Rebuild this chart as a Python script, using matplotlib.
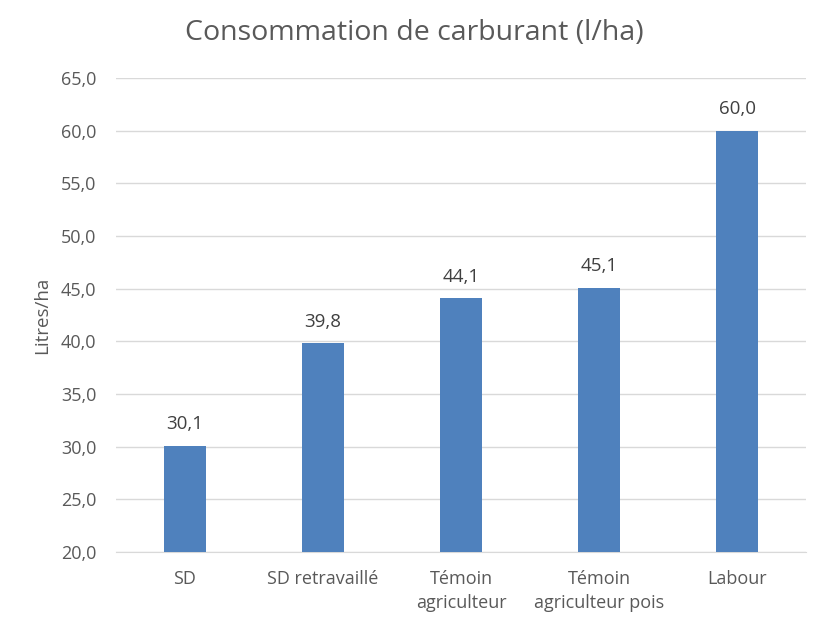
import matplotlib
matplotlib.use("Agg")
import matplotlib.pyplot as plt
from matplotlib.ticker import FuncFormatter

categories = ["SD", "SD retravaillé", "Témoin\nagriculteur", "Témoin\nagriculteur pois", "Labour"]
values = [30.1, 39.8, 44.1, 45.1, 60.0]
title = "Consommation de carburant (l/ha)"
ylabel = "Litres/ha"

plt.rcParams['font.family'] = ['Open Sans', 'DejaVu Sans']
txt = '#595959'

fig = plt.figure(figsize=(8.25, 6.25), dpi=100)
ax = fig.add_axes([0.1406, 0.1168, 0.8364, 0.7584])
x = range(len(categories))
ax.bar(x, values, width=0.31, color='#4F81BD', zorder=3, bottom=0)
ax.set_ylim(20, 65)
ax.set_xlim(-0.5, len(categories) - 0.5)
ax.set_yticks([20 + 5 * i for i in range(10)])
ax.yaxis.set_major_formatter(FuncFormatter(lambda v, p: f"{v:.1f}".replace('.', ',')))
ax.grid(axis='y', color='#D9D9D9', linewidth=1, zorder=0)
for s in ['top', 'right', 'left']:
    ax.spines[s].set_visible(False)
ax.spines['bottom'].set_color('#D9D9D9')
ax.tick_params(axis='both', length=0, colors=txt, labelsize=13)
ax.tick_params(axis='y', pad=14)
ax.tick_params(axis='x', pad=13)
ax.set_xticks(list(x))
ax.set_xticklabels(categories, color=txt, linespacing=1.45)
for xi, v in zip(x, values):
    ax.annotate(f"{v:.1f}".replace('.', ','), (xi, v), xytext=(0, 9), textcoords='offset points',
                ha='center', va='bottom', fontsize=13.5, color='#404040')
ax.set_ylabel(ylabel, fontsize=13.5, color=txt, labelpad=7)
fig.text(0.502, 0.947, title, ha='center', va='center', fontsize=20.5, color=txt)
fig.savefig("out.png", dpi=100)
